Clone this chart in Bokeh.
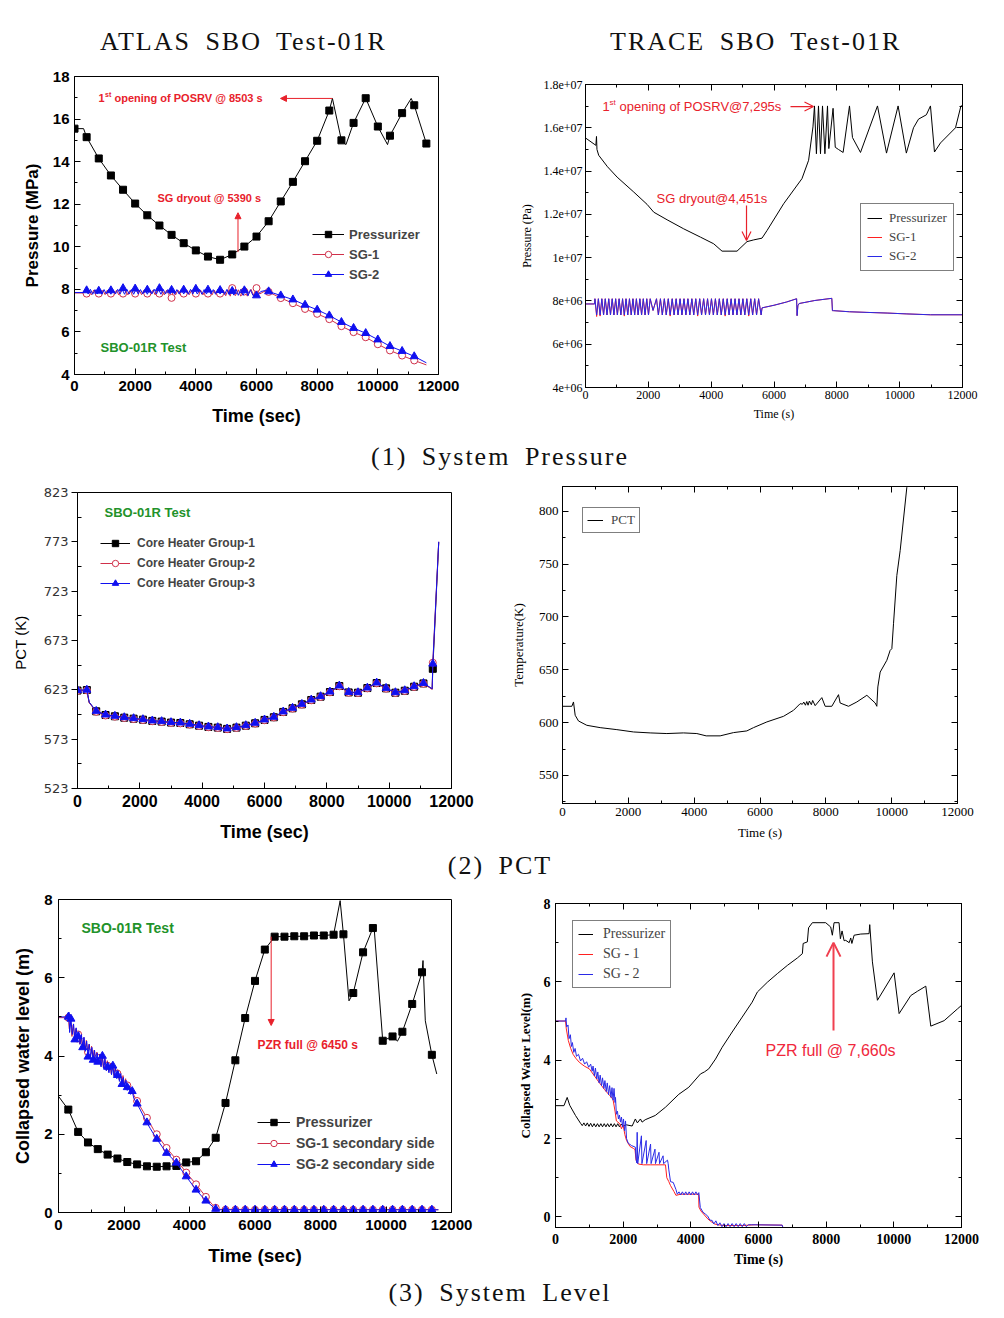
from bokeh.plotting import figure
from bokeh.models import (Range1d, FixedTicker, LinearAxis, Label, Arrow, NormalHead,
                          OpenHead, Legend, LegendItem, Div)
from bokeh.layouts import column, row
from bokeh.embed import file_html
from bokeh.resources import INLINE

# ----------------------------------------------------------------- DATA
panel_titles = ["ATLAS SBO Test-01R", "TRACE SBO Test-01R"]
captions = ["(1) System Pressure", "(2) PCT", "(3) System Level"]

# (1) ATLAS system pressure  [time s, MPa]
atlas_p_pzr = [(0, 15.55), (300, 15.55), (400, 15.15), (800, 14.15), (1200, 13.35), (1600, 12.68),
               (2000, 12.03), (2400, 11.48), (2800, 11.0), (3200, 10.56), (3600, 10.17), (4000, 9.83),
               (4400, 9.54), (4800, 9.39), (5200, 9.64), (5600, 10.01), (6000, 10.48), (6400, 11.2),
               (6800, 12.13), (7200, 13.05), (7600, 14.02), (8000, 14.98), (8400, 16.4), (8503, 16.97),
               (8800, 15.0), (8950, 14.8), (9200, 15.82), (9600, 16.98), (10000, 15.65), (10320, 14.8),
               (10400, 15.22), (10800, 16.28), (11100, 16.97), (11200, 16.65), (11600, 14.85)]
atlas_p_sg1 = [(0, 7.83), (300, 7.83), (335, 7.96), (410, 7.75), (485, 7.96), (560, 7.74), (635, 7.97),
               (710, 7.75), (785, 7.96), (860, 7.74), (935, 7.96), (1010, 7.75), (1085, 7.97), (1160, 7.74),
               (1235, 7.96), (1310, 7.75), (1385, 7.96), (1460, 7.74), (1535, 7.97), (1610, 7.75),
               (1685, 7.96), (1760, 7.74), (1835, 7.96), (1910, 7.75), (1985, 7.97), (2060, 7.74),
               (2135, 7.96), (2210, 7.75), (2285, 7.96), (2360, 7.74), (2435, 7.97), (2510, 7.75),
               (2585, 7.96), (2660, 7.74), (2735, 7.96), (2810, 7.75), (2885, 7.97), (2960, 7.74),
               (3035, 7.96), (3110, 7.75), (3200, 7.6), (3260, 7.96), (3335, 7.74), (3410, 7.97),
               (3485, 7.75), (3560, 7.96), (3635, 7.74), (3710, 7.96), (3785, 7.75), (3860, 7.97),
               (3935, 7.74), (4010, 7.96), (4085, 7.75), (4160, 7.96), (4235, 7.74), (4310, 7.97),
               (4385, 7.75), (4460, 7.96), (4535, 7.74), (4610, 7.96), (4685, 7.75), (4760, 7.97),
               (4835, 7.72), (4910, 7.96), (4985, 7.7), (5060, 7.98), (5135, 7.68), (5200, 8.06),
               (5300, 7.7), (5400, 7.98), (5480, 7.68), (5600, 7.9), (5700, 7.68), (5820, 8.0),
               (5900, 7.72), (6000, 8.06), (6100, 7.78), (6250, 7.9), (6400, 7.88), (6800, 7.59),
               (7200, 7.35), (7600, 7.08), (8000, 6.85), (8400, 6.6), (8800, 6.27), (9200, 5.99),
               (9600, 5.75), (10000, 5.42), (10400, 5.13), (10800, 4.89), (11200, 4.66), (11600, 4.45)]
atlas_p_sg2 = [(0, 7.85), (300, 7.85), (375, 7.99), (450, 7.78), (525, 8.0), (600, 7.77), (675, 7.99),
               (750, 7.78), (825, 8.01), (900, 7.77), (975, 7.99), (1050, 7.79), (1125, 8.0), (1200, 7.77),
               (1275, 7.98), (1350, 7.78), (1425, 8.0), (1500, 7.78), (1575, 7.99), (1650, 7.77),
               (1725, 8.01), (1800, 7.78), (1875, 7.99), (1950, 7.77), (2025, 8.0), (2100, 7.78),
               (2175, 7.99), (2250, 7.78), (2325, 8.0), (2400, 7.77), (2475, 7.99), (2550, 7.78),
               (2625, 8.01), (2700, 7.78), (2775, 7.99), (2850, 7.77), (2925, 8.0), (3000, 7.78),
               (3075, 7.99), (3150, 7.78), (3225, 8.0), (3300, 7.77), (3375, 7.99), (3450, 7.78),
               (3525, 8.01), (3600, 7.78), (3675, 7.99), (3750, 7.77), (3825, 8.0), (3900, 7.78),
               (3975, 7.99), (4050, 7.78), (4125, 8.0), (4200, 7.77), (4275, 7.99), (4350, 7.78),
               (4425, 8.01), (4500, 7.78), (4575, 7.99), (4650, 7.77), (4725, 8.0), (4800, 7.78),
               (4875, 7.99), (4950, 7.76), (5025, 8.0), (5100, 7.75), (5175, 7.99), (5250, 7.73),
               (5325, 8.01), (5400, 7.72), (5480, 8.0), (5560, 7.72), (5640, 8.0), (5720, 7.7),
               (5800, 7.98), (5880, 7.72), (6000, 7.71), (6150, 7.9), (6300, 7.95), (6400, 7.9),
               (6800, 7.71), (7200, 7.52), (7600, 7.27), (8000, 7.04), (8400, 6.77), (8800, 6.46),
               (9200, 6.18), (9600, 5.94), (10000, 5.64), (10400, 5.33), (10800, 5.1), (11200, 4.85),
               (11600, 4.55)]
atlas_p_sg1_marks = [(400, 7.8), (800, 7.8), (1200, 7.8), (1600, 7.8), (2000, 7.8), (2400, 7.8),
                     (2800, 7.8), (3200, 7.6), (3600, 7.8), (4000, 7.8), (4400, 7.8), (4800, 7.8),
                     (5200, 8.06), (5600, 7.9), (6000, 8.06), (6400, 7.88), (6800, 7.59), (7200, 7.35),
                     (7600, 7.08), (8000, 6.85), (8400, 6.6), (8800, 6.27), (9200, 5.99), (9600, 5.75),
                     (10000, 5.42), (10400, 5.13), (10800, 4.89), (11200, 4.66)]
atlas_p_sg2_marks = [(400, 7.95), (800, 7.93), (1200, 7.95), (1600, 8.05), (2000, 8.03), (2400, 7.98),
                     (2800, 8.05), (3200, 7.97), (3600, 7.98), (4000, 8.02), (4400, 7.98), (4800, 7.96),
                     (5200, 7.92), (5600, 7.95), (6000, 7.71), (6400, 7.9), (6800, 7.71), (7200, 7.52),
                     (7600, 7.27), (8000, 7.04), (8400, 6.77), (8800, 6.46), (9200, 6.18), (9600, 5.94),
                     (10000, 5.64), (10400, 5.33), (10800, 5.1), (11200, 4.85)]

# (1) TRACE system pressure  [time s, MPa]  (axis labelled in Pa)
trace_p_ticklabels = ["4e+06", "6e+06", "8e+06", "1e+07", "1.2e+07", "1.4e+07", "1.6e+07", "1.8e+07"]
trace_p_pzr = [(0, 15.53), (300, 15.22), (330, 15.19), (350, 15.6), (365, 15.0), (420, 14.73), (700, 14.2),
               (1007, 13.72), (1537, 13.03), (1961, 12.46), (2173, 12.1), (2597, 11.75), (3127, 11.33),
               (3657, 10.95), (4081, 10.64), (4346, 10.3), (4823, 10.3), (5141, 10.74), (5353, 10.82),
               (5618, 10.9), (5777, 11.25), (6307, 12.49), (6890, 13.65), (7102, 14.5), (7240, 16.04),
               (7289, 17.01), (7350, 14.8), (7416, 17.01), (7480, 14.8), (7544, 17.01), (7620, 14.8),
               (7703, 17.01), (7745, 15.04), (7880, 16.9), (7950, 15.1), (8050, 15.0), (8200, 14.86),
               (8403, 17.01), (8498, 15.55), (8753, 14.86), (9294, 17.01), (9581, 14.83), (9950, 17.01),
               (10213, 14.83), (10440, 16.0), (10600, 16.4), (10850, 16.6), (10980, 17.01), (11108, 14.88),
               (11300, 15.3), (11777, 16.0), (11950, 17.01), (12000, 17.01)]
trace_p_sg2 = [(0, 7.86), (290, 7.86), (300, 8.1), (355, 7.35), (410, 8.1), (465, 7.35), (520, 8.1),
               (575, 7.35), (630, 8.1), (685, 7.35), (740, 8.1), (795, 7.35), (850, 8.1), (905, 7.35),
               (960, 8.1), (1015, 7.35), (1070, 8.1), (1125, 7.35), (1180, 8.1), (1235, 7.35), (1290, 8.1),
               (1345, 7.35), (1400, 8.1), (1455, 7.35), (1510, 8.1), (1565, 7.35), (1620, 8.1),
               (1675, 7.35), (1730, 8.1), (1785, 7.35), (1840, 8.1), (1895, 7.35), (1950, 8.1),
               (2005, 7.35), (2060, 8.1), (2150, 7.56), (2260, 8.1), (2320, 7.35), (2385, 8.1),
               (2445, 7.35), (2510, 8.1), (2570, 7.35), (2635, 8.1), (2695, 7.35), (2760, 8.1),
               (2820, 7.35), (2885, 8.1), (2945, 7.35), (3010, 8.1), (3070, 7.35), (3135, 8.1),
               (3195, 7.35), (3260, 8.1), (3320, 7.35), (3385, 8.1), (3445, 7.35), (3510, 8.1),
               (3570, 7.35), (3635, 8.1), (3695, 7.35), (3760, 8.1), (3820, 7.35), (3885, 8.1),
               (3945, 7.35), (4010, 8.1), (4070, 7.35), (4135, 8.1), (4195, 7.35), (4260, 8.1),
               (4320, 7.35), (4385, 8.1), (4445, 7.35), (4510, 8.1), (4570, 7.35), (4635, 8.1),
               (4695, 7.35), (4760, 8.1), (4820, 7.35), (4885, 8.1), (4945, 7.35), (5010, 8.1),
               (5070, 7.35), (5135, 8.1), (5195, 7.35), (5260, 8.1), (5320, 7.35), (5385, 8.1),
               (5445, 7.35), (5510, 8.1), (5590, 7.35), (5620, 7.68), (6000, 7.8), (6400, 7.95),
               (6720, 8.1), (6735, 7.32), (6760, 7.78), (6800, 7.88), (7300, 8.02), (7840, 8.12),
               (7860, 7.55), (7900, 7.55), (8400, 7.5), (8960, 7.47), (9600, 7.44), (10230, 7.4),
               (10980, 7.36), (12000, 7.36)]
trace_p_sg1 = [(0, 7.86), (290, 7.86), (300, 8.1), (355, 7.28), (410, 8.1), (465, 7.3), (520, 8.1),
               (575, 7.35), (630, 8.1), (685, 7.35), (740, 8.1), (795, 7.35), (850, 8.1), (905, 7.35),
               (960, 8.1), (1015, 7.35), (1070, 8.1), (1125, 7.35), (1180, 8.1), (1235, 7.3), (1290, 8.1),
               (1345, 7.35), (1400, 8.1), (1455, 7.35), (1510, 8.1), (1565, 7.35), (1620, 8.1),
               (1675, 7.35), (1730, 8.1), (1785, 7.35), (1840, 8.1), (1895, 7.35), (1950, 8.1),
               (2005, 7.35), (2060, 8.1), (2150, 7.56), (2260, 8.1), (2320, 7.35), (2385, 8.1),
               (2445, 7.35), (2510, 8.1), (2570, 7.35), (2635, 8.1), (2695, 7.3), (2760, 8.1),
               (2820, 7.35), (2885, 8.1), (2945, 7.35), (3010, 8.1), (3070, 7.35), (3135, 8.1),
               (3195, 7.35), (3260, 8.1), (3320, 7.35), (3385, 8.1), (3445, 7.35), (3510, 8.1),
               (3570, 7.3), (3635, 8.1), (3695, 7.35), (3760, 8.1), (3820, 7.35), (3885, 8.1),
               (3945, 7.35), (4010, 8.1), (4070, 7.35), (4135, 8.1), (4195, 7.35), (4260, 8.1),
               (4320, 7.35), (4385, 8.1), (4445, 7.3), (4510, 8.1), (4570, 7.35), (4635, 8.1),
               (4695, 7.35), (4760, 8.1), (4820, 7.35), (4885, 8.1), (4945, 7.35), (5010, 8.1),
               (5070, 7.35), (5135, 8.1), (5195, 7.3), (5260, 8.1), (5320, 7.35), (5385, 8.1),
               (5445, 7.35), (5510, 8.1), (5590, 7.35), (5620, 7.68), (6000, 7.8), (6400, 7.95),
               (6720, 8.1), (6735, 7.32), (6760, 7.78), (6800, 7.88), (7300, 8.02), (7840, 8.12),
               (7860, 7.55), (7900, 7.55), (8400, 7.5), (8960, 7.47), (9600, 7.44), (10230, 7.4),
               (10980, 7.36), (12000, 7.36)]

# (2) ATLAS PCT  [time s, K]
pct_t = [0, 300, 374, 600, 900, 1200, 1500, 1800, 2100, 2400, 2700, 3000, 3300, 3600, 3900, 4200, 4500,
         4800, 5100, 5400, 5700, 6000, 6300, 6600, 6900, 7200, 7500, 7800, 8100, 8400, 8700, 9000, 9300,
         9600, 9900, 10200, 10500, 10800, 11100, 11380, 11400, 11590]
pct_g1 = [622.3, 622.8, 610.3, 601.2, 597.5, 596.2, 594.8, 593.8, 592.8, 591.5, 590.8, 589.8, 589.4, 588.1,
          586.7, 585.4, 584.7, 583.4, 584.7, 586.7, 589.1, 592.5, 595.2, 600.6, 604.3, 608.3, 612.7, 616.1,
          620.8, 626.9, 620.4, 620.1, 624.8, 629.9, 624.5, 620.1, 622.1, 626.2, 629.5, 623.8, 644.3, 772.5]
pct_g2 = [622.0, 622.5, 610.0, 600.8, 597.0, 595.8, 594.5, 593.4, 592.4, 591.2, 590.4, 589.5, 589.0, 587.8,
          586.4, 585.1, 584.4, 583.1, 584.4, 586.4, 588.8, 592.2, 595.0, 600.3, 604.0, 608.0, 612.4, 615.8,
          620.5, 626.6, 620.1, 619.8, 624.5, 629.6, 624.2, 619.8, 621.8, 625.9, 629.2, 623.5, 650.5, 773.0]
pct_g3 = [622.5, 623.0, 610.6, 601.5, 597.8, 596.5, 595.1, 594.1, 593.1, 591.8, 591.1, 590.1, 589.7, 588.4,
          587.0, 585.7, 585.0, 583.7, 585.0, 587.0, 589.4, 592.8, 595.5, 600.9, 604.6, 608.6, 613.0, 616.4,
          621.1, 627.2, 620.7, 620.4, 625.1, 630.2, 624.8, 620.4, 622.4, 626.5, 629.8, 624.1, 649.4, 773.1]
pct_ticks = [523, 573, 623, 673, 723, 773, 823]

# (2) TRACE PCT  [time s, K]
trace_pct = [(0, 615.5), (284, 615.5), (334, 619.6), (385, 607.0), (486, 601.6), (739, 597.5), (1144, 595.3),
             (1651, 593.4), (2157, 591.2), (2663, 590.3), (3170, 589.7), (3676, 590.3), (4081, 589.7),
             (4365, 587.5), (4790, 587.5), (5195, 590.6), (5600, 592.2), (5803, 595.3), (6208, 600.7),
             (6714, 606.0), (7018, 611.7), (7220, 618.0), (7290, 617.5), (7330, 619.5), (7380, 616.5),
             (7420, 620.0), (7460, 616.5), (7500, 620.5), (7560, 617.0), (7600, 621.0), (7676, 616.1),
             (7878, 623.7), (7980, 615.5), (8182, 615.5), (8385, 626.5), (8435, 618.6), (8689, 615.5),
             (8942, 619.6), (9246, 625.9), (9499, 618.6), (9549, 615.5), (9580, 633.8), (9651, 647.9),
             (9853, 659.0), (9954, 668.4), (10005, 670.0), (10056, 693.6), (10157, 739.3), (10258, 762.8),
             (10461, 822.7), (10500, 835.0)]

# (3) ATLAS collapsed water level  [time s, m]
atlas_l_pzr = [(0, 2.97), (300, 2.63), (600, 2.06), (900, 1.79), (1200, 1.62), (1500, 1.48), (1800, 1.38),
               (2100, 1.29), (2400, 1.23), (2700, 1.18), (3000, 1.17), (3300, 1.18), (3600, 1.19),
               (3900, 1.28), (4200, 1.31), (4500, 1.54), (4800, 1.91), (5100, 2.8), (5400, 3.89),
               (5700, 4.97), (6000, 5.92), (6300, 6.72), (6600, 7.05), (6900, 7.05), (7200, 7.06),
               (7500, 7.06), (7800, 7.08), (8100, 7.08), (8400, 7.1), (8600, 7.97), (8700, 7.11),
               (8870, 5.41), (9000, 5.61), (9300, 6.65), (9600, 7.27), (9640, 7.25), (9900, 4.39),
               (10200, 4.5), (10350, 4.38), (10500, 4.62), (10800, 5.33), (11100, 6.14), (11130, 6.44),
               (11200, 4.9), (11400, 4.03), (11550, 3.54)]
atlas_l_sg1 = [(0, 4.98), (300, 4.98), (330, 4.7), (370, 4.9), (410, 4.5), (450, 4.8), (490, 4.45), (530, 4.7),
               (570, 4.35), (610, 4.62), (650, 4.3), (690, 4.55), (730, 4.2), (770, 4.47), (810, 4.15),
               (850, 4.4), (890, 4.05), (930, 4.3), (970, 4.0), (1010, 4.25), (1050, 3.95), (1090, 4.15),
               (1130, 3.88), (1170, 4.1), (1210, 3.82), (1250, 4.05), (1290, 3.75), (1330, 4.0), (1370, 3.7),
               (1410, 3.95), (1450, 3.65), (1490, 3.88), (1530, 3.6), (1570, 3.82), (1610, 3.55),
               (1650, 3.78), (1690, 3.5), (1730, 3.72), (1770, 3.45), (1810, 3.65), (1850, 3.4),
               (1890, 3.58), (1930, 3.32), (1970, 3.5), (2010, 3.25), (2050, 3.42), (2090, 3.18),
               (2140, 3.3), (2190, 3.08), (2240, 3.15), (2300, 3.0), (2400, 2.85), (2500, 2.7),
               (2700, 2.42), (2900, 2.12), (3000, 2.0), (3300, 1.65), (3600, 1.35), (3900, 1.02),
               (4200, 0.72), (4500, 0.4), (4700, 0.2), (4900, 0.08), (11600, 0.07)]
atlas_l_sg2 = [(0, 5.0), (300, 5.0), (320, 5.12), (340, 4.6), (380, 4.95), (420, 4.55), (460, 4.82),
               (500, 4.42), (540, 4.72), (580, 4.38), (620, 4.62), (660, 4.3), (700, 4.55), (740, 4.22),
               (780, 4.48), (820, 4.12), (860, 4.38), (900, 4.02), (940, 4.3), (980, 3.98), (1020, 4.22),
               (1060, 3.9), (1100, 4.15), (1140, 3.85), (1180, 4.08), (1220, 3.8), (1260, 4.04),
               (1300, 3.72), (1340, 4.0), (1380, 3.68), (1420, 3.92), (1460, 3.62), (1500, 3.85),
               (1540, 3.57), (1580, 3.8), (1620, 3.52), (1660, 3.75), (1700, 3.47), (1740, 3.7),
               (1780, 3.42), (1820, 3.62), (1860, 3.35), (1900, 3.55), (1940, 3.28), (1980, 3.45),
               (2020, 3.2), (2060, 3.38), (2100, 3.12), (2150, 3.25), (2200, 3.02), (2250, 3.1),
               (2300, 2.92), (2376, 2.81), (2500, 2.62), (2661, 2.35), (2800, 2.15), (2967, 1.92),
               (3283, 1.54), (3589, 1.28), (3885, 0.94), (4180, 0.6), (4476, 0.32), (4792, 0.09),
               (4850, 0.07), (11600, 0.07)]
atlas_l_sg1_marks = [(300, 4.98), (600, 4.55), (900, 4.1), (1200, 3.95), (1500, 3.75), (1800, 3.55),
                     (2100, 3.25), (2400, 2.85), (2700, 2.42), (3000, 2.0), (3300, 1.65), (3600, 1.35),
                     (3900, 1.02), (4200, 0.72), (4500, 0.4), (4800, 0.12), (5100, 0.07), (5400, 0.07),
                     (5700, 0.07), (6000, 0.07), (6300, 0.07), (6600, 0.07), (6900, 0.07), (7200, 0.07),
                     (7500, 0.07), (7800, 0.07), (8100, 0.07), (8400, 0.07), (8700, 0.07), (9000, 0.07),
                     (9300, 0.07), (9600, 0.07), (9900, 0.07), (10200, 0.07), (10500, 0.07), (10800, 0.07),
                     (11100, 0.07), (11400, 0.07)]
atlas_l_sg2_marks = [(300, 5.0), (380, 4.95), (500, 4.42), (600, 4.5), (740, 4.22), (900, 3.98), (1060, 3.9),
                     (1200, 3.85), (1340, 4.0), (1500, 3.72), (1660, 3.75), (1800, 3.51), (1940, 3.28),
                     (2100, 3.2), (2250, 3.1), (2400, 2.78), (2700, 2.3), (3000, 1.88), (3300, 1.52),
                     (3600, 1.27), (3900, 0.92), (4200, 0.58), (4500, 0.3), (4800, 0.09), (5100, 0.07),
                     (5400, 0.07), (5700, 0.07), (6000, 0.07), (6300, 0.07), (6600, 0.07), (6900, 0.07),
                     (7200, 0.07), (7500, 0.07), (7800, 0.07), (8100, 0.07), (8400, 0.07), (8700, 0.07),
                     (9000, 0.07), (9300, 0.07), (9600, 0.07), (9900, 0.07), (10200, 0.07), (10500, 0.07),
                     (10800, 0.07), (11100, 0.07), (11400, 0.07)]

# (3) TRACE collapsed water level  [time s, m]
trace_l_pzr = [(0, 2.84), (250, 2.84), (345, 3.05), (420, 2.85), (590, 2.59), (740, 2.39), (790, 2.33),
               (840, 2.4), (890, 2.32), (940, 2.4), (990, 2.31), (1040, 2.39), (1090, 2.3), (1140, 2.38),
               (1190, 2.3), (1240, 2.38), (1290, 2.3), (1340, 2.38), (1390, 2.3), (1440, 2.38), (1490, 2.3),
               (1540, 2.38), (1590, 2.3), (1640, 2.38), (1690, 2.3), (1740, 2.38), (1790, 2.3), (1840, 2.38),
               (1890, 2.3), (1940, 2.37), (1990, 2.32), (2100, 2.35), (2265, 2.32), (2360, 2.5),
               (2420, 2.4), (2510, 2.5), (2560, 2.42), (2650, 2.48), (2950, 2.59), (3250, 2.8),
               (3645, 3.13), (3940, 3.31), (4285, 3.65), (4400, 3.7), (4530, 3.78), (4730, 4.03),
               (4926, 4.33), (5221, 4.72), (5517, 5.1), (5812, 5.48), (5966, 5.74), (6261, 5.99),
               (6557, 6.21), (6853, 6.42), (7149, 6.61), (7297, 6.72), (7320, 6.98), (7444, 7.02),
               (7480, 7.38), (7592, 7.51), (7986, 7.51), (8134, 7.4), (8183, 7.19), (8233, 7.51),
               (8381, 7.51), (8420, 7.1), (8470, 7.3), (8530, 7.05), (8578, 7.06), (8680, 7.0),
               (8726, 7.12), (8760, 6.98), (8825, 7.19), (9022, 7.22), (9268, 7.23), (9288, 7.46),
               (9367, 6.51), (9515, 5.53), (10008, 6.23), (10156, 5.19), (10501, 5.65), (10698, 5.76),
               (10945, 5.89), (11092, 4.87), (11487, 5.01), (11881, 5.31), (12000, 5.4)]
trace_l_sg1 = [(0, 5.0), (296, 5.0), (320, 4.8), (380, 4.5), (450, 4.3), (520, 4.15), (600, 4.05), (700, 3.95),
               (850, 3.85), (1000, 3.78), (1150, 3.6), (1300, 3.42), (1450, 3.25), (1600, 3.1), (1700, 3.0),
               (1760, 2.7), (1800, 2.45), (1900, 2.38), (1950, 2.25), (2000, 2.35), (2050, 2.1), (2100, 1.95),
               (2200, 1.8), (2300, 1.75), (2350, 1.72), (2380, 1.45), (2450, 1.35), (2600, 1.33),
               (2800, 1.33), (3000, 1.33), (3250, 1.33), (3290, 1.0), (3350, 0.9), (3400, 0.8), (3500, 0.65),
               (3560, 0.55), (3700, 0.58), (3900, 0.58), (4100, 0.58), (4230, 0.58), (4240, 0.25),
               (4300, 0.15), (4400, 0.05), (4500, -0.05), (4600, -0.12), (4700, -0.18), (4800, -0.2),
               (5000, -0.22), (5500, -0.22), (5900, -0.2), (6700, -0.21), (6720, -0.27), (12000, -0.27)]
trace_l_sg2 = [(0, 5.0), (296, 5.0), (310, 5.08), (330, 4.85), (370, 4.9), (400, 4.55), (440, 4.65),
               (470, 4.35), (500, 4.45), (540, 4.2), (580, 4.3), (620, 4.1), (680, 4.15), (740, 3.98),
               (800, 4.05), (860, 3.9), (920, 3.96), (980, 3.82), (1040, 3.9), (1084, 3.72), (1110, 3.85),
               (1150, 3.6), (1180, 3.8), (1220, 3.52), (1250, 3.7), (1290, 3.42), (1320, 3.62), (1360, 3.35),
               (1390, 3.55), (1430, 3.28), (1460, 3.48), (1500, 3.2), (1530, 3.42), (1570, 3.12),
               (1600, 3.35), (1640, 3.05), (1670, 3.3), (1700, 2.98), (1730, 3.28), (1760, 2.92),
               (1773, 3.05), (1800, 2.62), (1830, 2.7), (1860, 2.5), (1890, 2.6), (1920, 2.42), (1950, 2.55),
               (1980, 2.3), (2010, 2.5), (2040, 2.2), (2070, 2.45), (2100, 2.0), (2150, 1.88), (2250, 1.82),
               (2360, 1.78), (2380, 1.5), (2400, 1.38), (2414, 2.16), (2430, 1.36), (2540, 2.07),
               (2555, 1.36), (2680, 1.95), (2695, 1.36), (2810, 1.86), (2825, 1.36), (2940, 1.73),
               (2955, 1.36), (3060, 1.65), (3075, 1.36), (3180, 1.56), (3195, 1.36), (3310, 1.45),
               (3330, 1.36), (3350, 1.2), (3400, 0.9), (3480, 0.88), (3560, 0.7), (3600, 0.58), (3650, 0.64),
               (3700, 0.56), (3750, 0.64), (3800, 0.56), (3850, 0.64), (3900, 0.56), (3950, 0.64),
               (4000, 0.56), (4050, 0.64), (4100, 0.56), (4150, 0.64), (4200, 0.56), (4236, 0.62),
               (4280, 0.24), (4360, 0.12), (4433, 0.07), (4500, 0.02), (4560, -0.08), (4630, -0.09),
               (4680, -0.18), (4740, -0.1), (4800, -0.22), (4860, -0.15), (4920, -0.25), (4980, -0.17),
               (5040, -0.25), (5100, -0.17), (5160, -0.25), (5220, -0.17), (5280, -0.25), (5340, -0.17),
               (5400, -0.25), (5460, -0.17), (5520, -0.25), (5580, -0.17), (5640, -0.25), (5700, -0.2),
               (5800, -0.2), (6700, -0.21), (6720, -0.27), (12000, -0.27)]

# ----------------------------------------------------------------- STYLE
SANS = "Liberation Sans"
SERIF = "Liberation Serif"
RED = "#e8212b"
ORED = "#d0304a"
BLUE = "#1010f0"
GREEN = "#22922a"


def xs(pairs):
    return [a for a, _ in pairs]


def ys(pairs):
    return [b for _, b in pairs]


def make_fig(fw, fh, bl, br, bt, bb, xr, yr, xlabel, ylabel):
    p = figure(frame_width=fw, frame_height=fh, x_range=Range1d(*xr), y_range=Range1d(*yr),
               output_backend="svg", toolbar_location=None,
               min_border_left=bl, min_border_right=br, min_border_top=bt, min_border_bottom=bb,
               x_axis_label=xlabel, y_axis_label=ylabel)
    p.xgrid.visible = False
    p.ygrid.visible = False
    p.outline_line_color = "black"
    p.outline_line_alpha = 1.0
    p.outline_line_width = 1
    p.background_fill_color = "white"
    p.border_fill_color = "white"
    return p


def style_axis(ax, ticks, minor, font, size, bold, standoff, tin, tout, mtin, mtout,
               lfont, lsize, lbold, lstand, color="black"):
    ax.ticker = FixedTicker(ticks=ticks, minor_ticks=minor)
    ax.major_label_text_font = font
    ax.major_label_text_font_size = size
    ax.major_label_text_font_style = "bold" if bold else "normal"
    ax.major_label_text_color = color
    ax.major_label_standoff = standoff
    ax.major_tick_in = tin
    ax.major_tick_out = tout
    ax.minor_tick_in = mtin
    ax.minor_tick_out = mtout
    ax.axis_line_color = "black"
    ax.major_tick_line_color = "black"
    ax.minor_tick_line_color = "black"
    ax.axis_label_text_font = lfont
    ax.axis_label_text_font_size = lsize
    ax.axis_label_text_font_style = "bold" if lbold else "normal"
    ax.axis_label_text_color = "black"
    ax.axis_label_standoff = lstand


def box_ticks(p, xt, xm, yt, ym):
    # tick-only axes on the top and right edges (no labels drawn)
    for loc, tk, mn in (("above", xt, xm), ("right", yt, ym)):
        ax = LinearAxis(ticker=FixedTicker(ticks=tk, minor_ticks=mn), major_label_text_font_size="1px",
                        major_label_text_color=None, major_tick_in=6, major_tick_out=0, minor_tick_in=3,
                        minor_tick_out=0, major_label_standoff=0, axis_line_color="black")
        p.add_layout(ax, loc)


def label(p, x, y, text, size, color="black", font=SANS, bold=False, xo=0, yo=0):
    p.add_layout(Label(x=x, y=y, text=text, text_font=font, text_font_size=size,
                       text_font_style="bold" if bold else "normal", text_color=color,
                       text_baseline="middle", x_offset=xo, y_offset=yo))


def legend(p, items, loc, font, size, bold, gw, spacing, border, padding, standoff):
    lg = Legend(items=items, location=loc, label_text_font=font, label_text_font_size=size,
                label_text_font_style="bold" if bold else "normal", glyph_width=gw, glyph_height=16,
                label_height=16, spacing=spacing, padding=padding, margin=0, label_standoff=standoff,
                border_line_color="black" if border else None, border_line_width=1,
                background_fill_alpha=1.0 if border else 0.0)
    p.add_layout(lg)


X_TICKS = [0, 2000, 4000, 6000, 8000, 10000, 12000]
X_MINOR = [1000, 3000, 5000, 7000, 9000, 11000]

# ----------------------------------------------------------------- (1) ATLAS pressure
p1 = make_fig(364, 298, 74, 62, 16, 66, (0, 12000), (4, 18), "Time (sec)", "Pressure (MPa)")
style_axis(p1.below[0], X_TICKS, X_MINOR, SANS, "15px", True, 6, 6, 0, 3, 0, SANS, "18px", True, 12)
style_axis(p1.left[0], list(range(4, 19, 2)), list(range(5, 18, 2)), SANS, "15px", True, 5, 6, 0, 3, 0,
           SANS, "17px", True, 8)
l_pzr = p1.line(xs(atlas_p_pzr), ys(atlas_p_pzr), line_color="black", line_width=1)
m_pzr = p1.scatter([t for t, v in atlas_p_pzr if t % 400 == 0], [v for t, v in atlas_p_pzr if t % 400 == 0],
                   marker="square", size=7, color="black")
l_sg1 = p1.line(xs(atlas_p_sg1), ys(atlas_p_sg1), line_color=ORED, line_width=1)
m_sg1 = p1.scatter(xs(atlas_p_sg1_marks), ys(atlas_p_sg1_marks), marker="circle", size=7,
                   line_color=ORED, fill_color="white")
l_sg2 = p1.line(xs(atlas_p_sg2), ys(atlas_p_sg2), line_color=BLUE, line_width=1)
m_sg2 = p1.scatter(xs(atlas_p_sg2_marks), ys(atlas_p_sg2_marks), marker="triangle", size=8, color=BLUE)
legend(p1, [LegendItem(label="Pressurizer", renderers=[l_pzr, m_pzr]),
            LegendItem(label="SG-1", renderers=[l_sg1, m_sg1]),
            LegendItem(label="SG-2", renderers=[l_sg2, m_sg2])],
       (238, 92), SANS, "13px", True, 32, 4, False, 0, 5)
label(p1, 791, 16.99, "1", "11px", RED, bold=True)
label(p1, 791, 16.99, "st", "7px", RED, bold=True, xo=6.5, yo=3)
label(p1, 791, 16.99, "opening of POSRV @ 8503 s", "11px", RED, bold=True, xo=16)
p1.add_layout(Arrow(end=NormalHead(size=6, fill_color=RED, line_color=RED), x_start=8503, y_start=16.97,
                    x_end=6791, y_end=16.97, line_color=RED, line_width=1))
label(p1, 2736, 12.27, "SG dryout @ 5390 s", "11px", RED, bold=True)
p1.add_layout(Arrow(end=NormalHead(size=6, fill_color=RED, line_color=RED), x_start=5390, y_start=9.75,
                    x_end=5390, y_end=11.6, line_color=RED, line_width=1))
label(p1, 857, 5.27, "SBO-01R Test", "13px", GREEN, bold=True)

# ----------------------------------------------------------------- (1) TRACE pressure
p2 = make_fig(377, 303, 85, 38, 24, 53, (0, 12000), (4, 18), "Time (s)", "Pressure (Pa)")
style_axis(p2.below[0], X_TICKS, X_MINOR, SERIF, "12px", False, 3, 6, 0, 3, 0, SERIF, "12px", False, 5)
style_axis(p2.left[0], list(range(4, 19, 2)), list(range(5, 18, 2)), SERIF, "12px", False, 3, 6, 0, 3, 0,
           SERIF, "12px", False, 6)
p2.left[0].major_label_overrides = {t: s for t, s in zip(range(4, 19, 2), trace_p_ticklabels)}
box_ticks(p2, X_TICKS, X_MINOR, list(range(4, 19, 2)), list(range(5, 18, 2)))
r_pzr = p2.line(xs(trace_p_pzr), ys(trace_p_pzr), line_color="black", line_width=1)
r_sg1 = p2.line(xs(trace_p_sg1), ys(trace_p_sg1), line_color="#ff2020", line_width=1)
r_sg2 = p2.line(xs(trace_p_sg2), ys(trace_p_sg2), line_color="#2a2ae6", line_width=1)
legend(p2, [LegendItem(label="Pressurizer", renderers=[r_pzr]),
            LegendItem(label="SG-1", renderers=[r_sg1]),
            LegendItem(label="SG-2", renderers=[r_sg2])],
       (275, 116), SERIF, "13px", False, 15, 3, True, 6, 7)
label(p2, 541, 16.98, "1", "13px", RED)
label(p2, 541, 16.98, "st", "8px", RED, xo=7, yo=4)
label(p2, 541, 16.98, "opening of POSRV@7,295s", "13px", RED, xo=17)
p2.add_layout(Arrow(end=OpenHead(size=9, line_color=RED, line_width=1.2), x_start=6525, y_start=16.98,
                    x_end=7257, y_end=16.98, line_color=RED, line_width=1.2))
label(p2, 2260, 12.73, "SG dryout@4,451s", "13px", RED)
p2.add_layout(Arrow(end=OpenHead(size=9, line_color=RED, line_width=1.2), x_start=5125, y_start=12.41,
                    x_end=5125, y_end=10.79, line_color=RED, line_width=1.2))

# ----------------------------------------------------------------- (2) ATLAS PCT
p3 = make_fig(374, 296, 77, 49, 17, 62, (0, 12000), (523, 823), "Time (sec)", "PCT  (K)")
style_axis(p3.below[0], X_TICKS, X_MINOR, SANS, "16px", True, 6, 6, 0, 3, 0, SANS, "18px", True, 12)
style_axis(p3.left[0], pct_ticks, [548, 598, 648, 698, 748, 798], "DejaVu Sans", "13px", False, 3, 0, 6, 4, 0,
           SANS, "15px", False, 12, color="#333333")
mk3 = [i for i, t in enumerate(pct_t) if t % 300 == 0]
g1l = p3.line(pct_t, pct_g1, line_color="black", line_width=1)
g1m = p3.scatter([pct_t[i] for i in mk3], [pct_g1[i] for i in mk3], marker="square", size=7, color="black")
g2l = p3.line(pct_t, pct_g2, line_color=ORED, line_width=1)
g2m = p3.scatter([pct_t[i] for i in mk3], [pct_g2[i] for i in mk3], marker="circle", size=7,
                 line_color=ORED, fill_color="white")
g3l = p3.line(pct_t, pct_g3, line_color=BLUE, line_width=1)
g3m = p3.scatter([pct_t[i] for i in mk3], [pct_g3[i] for i in mk3], marker="triangle", size=8, color=BLUE)
legend(p3, [LegendItem(label="Core Heater Group-1", renderers=[g1l, g1m]),
            LegendItem(label="Core Heater Group-2", renderers=[g2l, g2m]),
            LegendItem(label="Core Heater Group-3", renderers=[g3l, g3m])],
       (23, 197), SANS, "12px", True, 30, 4, False, 0, 7)
label(p3, 866, 802.7, "SBO-01R Test", "13px", GREEN, bold=True)

# ----------------------------------------------------------------- (2) TRACE PCT
p4 = make_fig(395, 317, 62, 43, 11, 47, (0, 12000), (523.5, 823.5), "Time (s)", "Temperature(K)")
style_axis(p4.below[0], X_TICKS, X_MINOR, SERIF, "13px", False, 4, 6, 0, 3, 0, SERIF, "13px", False, 6)
style_axis(p4.left[0], [550, 600, 650, 700, 750, 800], [525, 575, 625, 675, 725, 775], SERIF, "13px", False,
           4, 6, 0, 3, 0, SERIF, "13px", False, 10)
box_ticks(p4, X_TICKS, X_MINOR, [550, 600, 650, 700, 750, 800], [525, 575, 625, 675, 725, 775])
r_pct = p4.line(xs(trace_pct), ys(trace_pct), line_color="black", line_width=1)
legend(p4, [LegendItem(label="PCT", renderers=[r_pct])], (20, 270), SERIF, "13px", False, 16, 0, True, 4, 8)

# ----------------------------------------------------------------- (3) ATLAS level
p5 = make_fig(393, 313, 58, 49, 17, 66, (0, 12000), (0, 8), "Time (sec)", "Collapsed water level (m)")
style_axis(p5.below[0], X_TICKS, X_MINOR, SANS, "15px", True, 7, 6, 0, 3, 0, SANS, "19px", True, 12)
style_axis(p5.left[0], [0, 2, 4, 6, 8], [1, 3, 5, 7], SANS, "15px", True, 6, 6, 0, 3, 0, SANS, "18px", True, 8)
q_pzr = p5.line(xs(atlas_l_pzr), ys(atlas_l_pzr), line_color="black", line_width=1)
qm_pzr = p5.scatter([t for t, v in atlas_l_pzr if t % 300 == 0 and t > 0],
                    [v for t, v in atlas_l_pzr if t % 300 == 0 and t > 0], marker="square", size=7, color="black")
q_sg1 = p5.line(xs(atlas_l_sg1), ys(atlas_l_sg1), line_color=ORED, line_width=1)
qm_sg1 = p5.scatter(xs(atlas_l_sg1_marks), ys(atlas_l_sg1_marks), marker="circle", size=7,
                    line_color=ORED, fill_color="white")
q_sg2 = p5.line(xs(atlas_l_sg2), ys(atlas_l_sg2), line_color=BLUE, line_width=1)
qm_sg2 = p5.scatter(xs(atlas_l_sg2_marks), ys(atlas_l_sg2_marks), marker="triangle", size=8, color=BLUE)
legend(p5, [LegendItem(label="Pressurizer", renderers=[q_pzr, qm_pzr]),
            LegendItem(label="SG-1 secondary side", renderers=[q_sg1, qm_sg1]),
            LegendItem(label="SG-2 secondary side", renderers=[q_sg2, qm_sg2])],
       (199, 40), SANS, "14px", True, 33, 5, False, 0, 6)
label(p5, 702, 7.26, "SBO-01R Test", "14px", GREEN, bold=True)
label(p5, 6076, 4.29, "PZR full @ 6450 s", "12px", RED, bold=True)
p5.add_layout(Arrow(end=NormalHead(size=6, fill_color=RED, line_color=RED), x_start=6494, y_start=7.05,
                    x_end=6494, y_end=4.78, line_color=RED, line_width=1))

# ----------------------------------------------------------------- (3) TRACE level
p6 = make_fig(406, 324, 55, 39, 21, 51, (0, 12000), (-0.27, 8), "Time (s)", "Collapsed Water Level(m)")
style_axis(p6.below[0], X_TICKS, X_MINOR, SERIF, "14px", True, 6, 6, 0, 3, 0, SERIF, "14px", True, 5)
style_axis(p6.left[0], [0, 2, 4, 6, 8], [1, 3, 5, 7], SERIF, "14px", True, 5, 6, 0, 3, 0, SERIF, "13px", True, 8)
box_ticks(p6, X_TICKS, X_MINOR, [0, 2, 4, 6, 8], [1, 3, 5, 7])
s_pzr = p6.line(xs(trace_l_pzr), ys(trace_l_pzr), line_color="black", line_width=1)
s_sg1 = p6.line(xs(trace_l_sg1), ys(trace_l_sg1), line_color="#ff2020", line_width=1)
s_sg2 = p6.line(xs(trace_l_sg2), ys(trace_l_sg2), line_color="#2a2ae6", line_width=1)
legend(p6, [LegendItem(label="Pressurizer", renderers=[s_pzr]),
            LegendItem(label="SG - 1", renderers=[s_sg1]),
            LegendItem(label="SG - 2", renderers=[s_sg2])],
       (17, 239), SERIF, "14px", False, 15, 4, True, 5, 10)
label(p6, 6207, 4.25, "PZR full @ 7,660s", "16px", "#f0283c")
p6.add_layout(Arrow(end=OpenHead(size=14, line_color="#f04050", line_width=2), x_start=8217, y_start=4.76,
                    x_end=8217, y_end=7.0, line_color="#f04050", line_width=2))

# ----------------------------------------------------------------- LAYOUT
TFONT = "font-family:'Liberation Serif',serif; font-size:26px; letter-spacing:2px; word-spacing:6px; color:#111;"
t1 = Div(text=f'<div style="{TFONT} padding-top:28px; padding-left:100px; line-height:28px;">{panel_titles[0]}</div>',
         width=500, height=60, margin=0)
t2 = Div(text=f'<div style="{TFONT} padding-top:28px; padding-left:110px; line-height:28px;">{panel_titles[1]}</div>',
         width=500, height=60, margin=0)


def caption(text, h, pad):
    return Div(text=f'<div style="{TFONT} width:1000px; text-align:center; padding-top:{pad}px; '
                    f'line-height:28px;">{text}</div>', width=1000, height=h, margin=0)


layout = column(row(t1, t2), row(column(p1), column(p2)), caption(captions[0], 35, 3),
                row(column(p3), column(p4)), caption(captions[1], 32, 2),
                row(column(p5), column(p6)), caption(captions[2], 32, 1))

open("out.html", "w").write(file_html(layout, INLINE))
